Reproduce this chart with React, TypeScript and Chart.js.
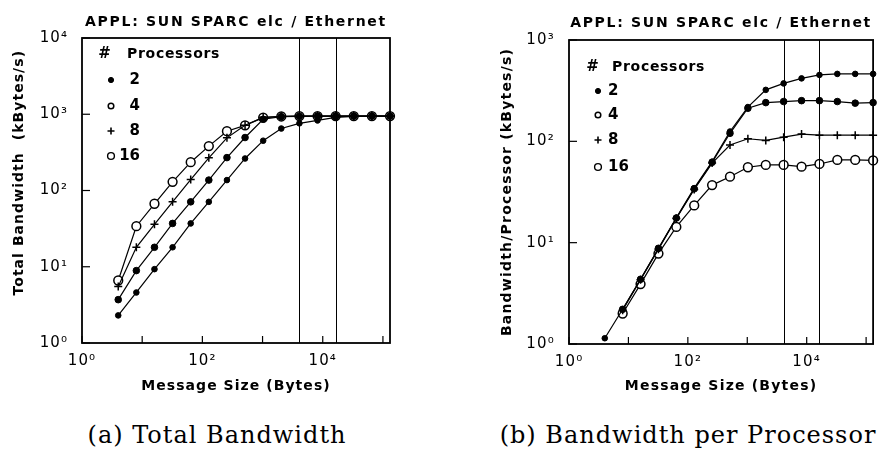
import React, { useEffect, useRef } from "react";
import { Chart, registerables } from "chart.js";

Chart.register(...registerables);

// ---------------- data ----------------
const messageSizes = [4, 8, 16, 32, 64, 128, 256, 512, 1024, 2048, 4096, 8192, 16384, 32768, 65536, 131072];
const processorLabels = ["2", "4", "8", "16"];

// (a) Total bandwidth, kBytes/s
const totalP2 = [2.3, 4.6, 9.3, 18, 37, 71, 137, 263, 450, 650, 760, 830, 910, 940, 945, 945];
const totalP4 = [3.7, 8.9, 18, 37, 71, 137, 270, 495, 860, 930, 940, 945, 945, 945, 945, 945];
const totalP8 = [5.5, 18, 36, 71, 139, 268, 490, 716, 910, 940, 945, 945, 945, 945, 945, 945];
const totalP16 = [6.6, 34, 67, 130, 235, 382, 600, 716, 904, 935, 945, 945, 945, 945, 945, 945];

// (b) Bandwidth per processor, kBytes/s
const perP2 = [1.14, 2.2, 4.35, 8.7, 17.6, 34.5, 63, 125, 218, 322, 373, 418, 452, 463, 463, 463];
const perP4 = [null, 2.2, 4.35, 8.8, 17.5, 34, 62, 120, 212, 241, 247, 252, 252, 247, 238, 241];
const perP8 = [null, 2.15, 4.3, 8.6, 17.3, 33.5, 61, 92, 106, 102, 110, 118, 115, 115, 115, 115];
const perP16 = [null, 2.0, 3.9, 7.8, 14.3, 23.3, 37, 44.8, 55.5, 58.5, 58.5, 56.2, 59.8, 65.5, 65.5, 64.8];

// reference lines (message sizes)
const markerSizes = [4096, 16384];

// ticks
const xDecades = [1, 10, 100, 1000, 10000, 100000];
const xTickLabels = ["10⁰", "", "10²", "", "10⁴", ""];
const yDecadesTotal = [1, 10, 100, 1000, 10000];
const yTickLabelsTotal = ["10⁰", "10¹", "10²", "10³", "10⁴"];
const yDecadesPer = [1, 10, 100, 1000];
const yTickLabelsPer = ["10⁰", "10¹", "10²", "10³"];

const chartTitle = "APPL: SUN SPARC elc / Ethernet";
const xTitle = "Message Size (Bytes)";
const yTitleTotal = "Total Bandwidth  (kBytes/s)";
const yTitlePer = "Bandwidth/Processor (kBytes/s)";
const legendTitle = "Processors";

// ---------------- styles ----------------
const SANS = "'DejaVu Sans', sans-serif";
const seriesStyle = [
  { pointStyle: "circle", radius: 2.8, bg: "#000", bw: 1 },
  { pointStyle: "circle", radius: 3.3, bg: "#000", bw: 1 },
  { pointStyle: "cross", radius: 4, bg: "#000", bw: 1.5 },
  { pointStyle: "circle", radius: 4.4, bg: "#fff", bw: 1.5 },
];
const legendMarks = [
  { style: "circle", r: 2.6, fill: true, lw: 1 },
  { style: "circle", r: 2.8, fill: false, lw: 1.5 },
  { style: "cross", r: 3.5, fill: false, lw: 1.6 },
  { style: "circle", r: 3.4, fill: false, lw: 1.4 },
];

type LegendLayout = {
  hashX: number; headerX: number; headerY: number;
  markX: number; labelX: number; labelAlign: CanvasTextAlign; rows: number[];
};

type Params = {
  series: (number | null)[][];
  yMax: number;
  yDecades: number[];
  yLabels: string[];
  yTitle: string;
  yTitlePadTop: number;
  yAxisWidth: number;
  xAxisHeight: number;
  padRight: number;
  padTop: number;
  titleOffset: number;
  axisSpacing: string;
  legend: LegendLayout;
};

function buildConfig(p: Params): any {
  const setSpacing = (chart: any) => {
    (chart.ctx as any).letterSpacing = p.axisSpacing;
  };
  const decor = {
    id: "decor",
    beforeLayout: setSpacing,
    beforeDraw: setSpacing,
    afterDraw(chart: any) {
      const ctx = chart.ctx as CanvasRenderingContext2D;
      const a = chart.chartArea;
      const xs = chart.scales.x;
      const ys = chart.scales.y;
      ctx.save();
      ctx.strokeStyle = "#000";
      ctx.fillStyle = "#000";
      // vertical reference lines
      ctx.lineWidth = 1;
      markerSizes.forEach((m) => {
        const px = Math.round(xs.getPixelForValue(m)) + 0.5;
        ctx.beginPath();
        ctx.moveTo(px, a.top);
        ctx.lineTo(px, a.bottom);
        ctx.stroke();
      });
      // inward ticks
      ctx.lineWidth = 1.2;
      xDecades.forEach((v) => {
        const px = xs.getPixelForValue(v);
        ctx.beginPath();
        ctx.moveTo(px, a.bottom);
        ctx.lineTo(px, a.bottom - 7);
        ctx.stroke();
      });
      p.yDecades.forEach((v) => {
        const py = ys.getPixelForValue(v);
        ctx.beginPath();
        ctx.moveTo(a.left, py);
        ctx.lineTo(a.left + 8, py);
        ctx.stroke();
      });
      // frame
      ctx.lineWidth = 1.8;
      ctx.strokeRect(a.left, a.top, a.right - a.left, a.bottom - a.top);
      // title
      (ctx as any).letterSpacing = "1.7px";
      ctx.font = `bold 14px ${SANS}`;
      ctx.textAlign = "center";
      ctx.textBaseline = "middle";
      ctx.fillText(chartTitle, (a.left + a.right) / 2, a.top - p.titleOffset);
      // legend
      const L = p.legend;
      (ctx as any).letterSpacing = "0.7px";
      ctx.font = `bold 15px ${SANS}`;
      ctx.textAlign = "center";
      ctx.fillText("#", a.left + L.hashX, a.top + L.headerY);
      ctx.font = `bold 14px ${SANS}`;
      ctx.textAlign = "left";
      ctx.fillText(legendTitle, a.left + L.headerX, a.top + L.headerY);
      (ctx as any).letterSpacing = "0px";
      processorLabels.forEach((lab, i) => {
        const y = a.top + L.rows[i];
        const x = a.left + L.markX;
        const m = legendMarks[i];
        ctx.lineWidth = m.lw;
        ctx.beginPath();
        if (m.style === "circle") {
          ctx.arc(x, y, m.r, 0, Math.PI * 2);
          if (m.fill) ctx.fill();
          ctx.stroke();
        } else {
          ctx.moveTo(x - m.r, y);
          ctx.lineTo(x + m.r, y);
          ctx.moveTo(x, y - m.r);
          ctx.lineTo(x, y + m.r);
          ctx.stroke();
        }
        ctx.font = `bold 15px ${SANS}`;
        ctx.textAlign = L.labelAlign;
        ctx.fillText(lab, a.left + L.labelX, y);
      });
      ctx.restore();
    },
  };

  const datasets = p.series.map((vals, i) => {
    const s = seriesStyle[i];
    return {
      label: processorLabels[i],
      data: messageSizes.map((x, j) => ({ x, y: vals[j] })),
      borderColor: "#000",
      borderWidth: 1.2,
      pointStyle: s.pointStyle,
      pointRadius: s.radius,
      pointBackgroundColor: s.bg,
      pointBorderColor: "#000",
      pointBorderWidth: s.bw,
      fill: false,
      tension: 0,
      clip: false,
    };
  });

  const tickFont = { family: SANS, size: 15 };
  const titleFont = { family: SANS, size: 14, weight: "bold" as const, lineHeight: 1.2 };

  return {
    type: "line",
    data: { datasets },
    options: {
      animation: false,
      responsive: false,
      events: [],
      layout: { padding: { left: 0, right: p.padRight, top: p.padTop, bottom: 0 } },
      plugins: { legend: { display: false }, title: { display: false }, tooltip: { enabled: false } },
      scales: {
        x: {
          type: "logarithmic",
          min: 1,
          max: 131072,
          afterBuildTicks: (s: any) => {
            s.ticks = xDecades.map((v) => ({ value: v }));
          },
          afterFit: (s: any) => {
            s.height = p.xAxisHeight;
          },
          ticks: {
            autoSkip: false,
            maxRotation: 0,
            padding: 9,
            color: "#000",
            font: tickFont,
            callback: (_v: any, i: number) => xTickLabels[i] ?? "",
          },
          grid: { display: false, drawTicks: false },
          border: { display: false },
          title: { display: true, text: xTitle, color: "#000", font: titleFont, padding: { top: 0, bottom: 5 } },
        },
        y: {
          type: "logarithmic",
          min: 1,
          max: p.yMax,
          afterBuildTicks: (s: any) => {
            s.ticks = p.yDecades.map((v) => ({ value: v }));
          },
          afterFit: (s: any) => {
            s.width = p.yAxisWidth;
          },
          ticks: {
            autoSkip: false,
            padding: 14,
            color: "#000",
            font: tickFont,
            callback: (_v: any, i: number) => p.yLabels[i] ?? "",
          },
          grid: { display: false, drawTicks: false },
          border: { display: false },
          title: { display: true, text: p.yTitle, color: "#000", font: titleFont, padding: { top: p.yTitlePadTop, bottom: 0 } },
        },
      },
    },
    plugins: [decor],
  };
}

export default function App() {
  const leftRef = useRef<HTMLCanvasElement>(null);
  const rightRef = useRef<HTMLCanvasElement>(null);

  useEffect(() => {
    const c1 = new Chart(
      leftRef.current as HTMLCanvasElement,
      buildConfig({
        series: [totalP2, totalP4, totalP8, totalP16],
        yMax: 10000,
        yDecades: yDecadesTotal,
        yLabels: yTickLabelsTotal,
        yTitle: "      " + yTitleTotal,
        yTitlePadTop: 11,
        yAxisWidth: 82,
        xAxisHeight: 57,
        padRight: 50,
        padTop: 38,
        titleOffset: 16,
        axisSpacing: "1.05px",
        legend: { hashX: 23, headerX: 45, headerY: 16, markX: 29, labelX: 58, labelAlign: "right", rows: [42, 68, 93, 118] },
      })
    );
    const c2 = new Chart(
      rightRef.current as HTMLCanvasElement,
      buildConfig({
        series: [perP2, perP4, perP8, perP16],
        yMax: 1000,
        yDecades: yDecadesPer,
        yLabels: yTickLabelsPer,
        yTitle: yTitlePer,
        yTitlePadTop: 59,
        yAxisWidth: 129,
        xAxisHeight: 56,
        padRight: 2,
        padTop: 40,
        titleOffset: 17,
        axisSpacing: "1.2px",
        legend: { hashX: 24, headerX: 43, headerY: 27, markX: 29, labelX: 39, labelAlign: "left", rows: [51, 75, 100, 127] },
      })
    );
    return () => {
      c1.destroy();
      c2.destroy();
    };
  }, []);

  const cap: React.CSSProperties = {
    position: "absolute",
    top: 420,
    width: 440,
    height: 30,
    lineHeight: "30px",
    textAlign: "center",
    fontFamily: "'DejaVu Serif', serif",
    fontSize: 24,
    letterSpacing: "1px",
    color: "#000",
    whiteSpace: "nowrap",
  };

  return (
    <div style={{ position: "fixed", left: 0, top: 0, width: 879, height: 450, background: "#fff", overflow: "hidden" }}>
      <canvas ref={leftRef} width={440} height={400} style={{ position: "absolute", left: 0, top: 0 }} />
      <canvas ref={rightRef} width={439} height={400} style={{ position: "absolute", left: 440, top: 0 }} />
      <div style={{ ...cap, left: 217 - 220 }}>(a) Total Bandwidth</div>
      <div style={{ ...cap, left: 688 - 220 }}>(b) Bandwidth per Processor</div>
    </div>
  );
}
